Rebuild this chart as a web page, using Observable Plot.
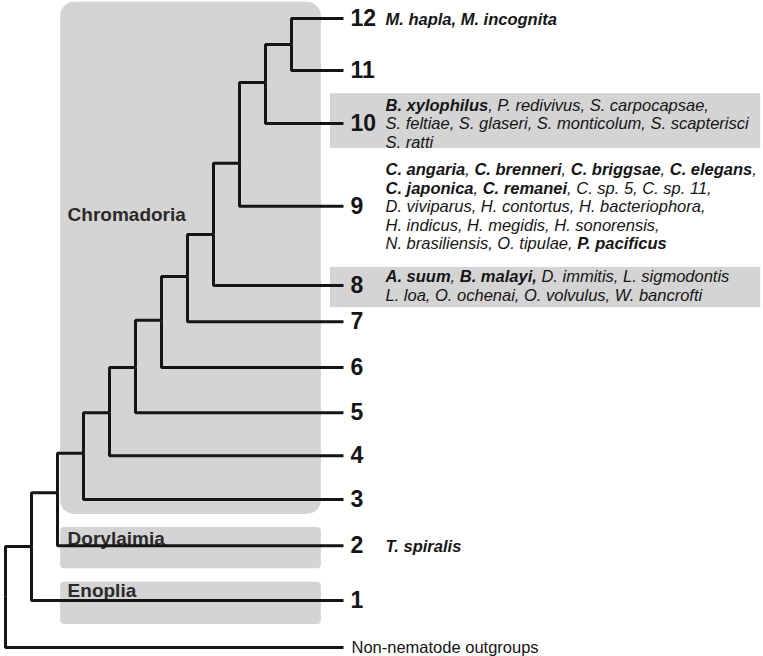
<!DOCTYPE html>
<html>
<head>
<meta charset="utf-8">
<script src="https://cdn.jsdelivr.net/npm/d3@7"></script>
<script src="https://cdn.jsdelivr.net/npm/@observablehq/plot@0.6"></script>
<style>
  html, body { margin: 0; padding: 0; background: #fff; }
  #chart svg { display: block; }
</style>
</head>
<body>
<div id="chart"></div>
<script>
// ---- Tree data (cladogram: depth levels and vertical row positions) ----
const tipNames   = ["12","11","10","9","8","7","6","5","4","3","2","1","Non-nematode outgroups"];
const tipRows    = [0.40, 1.55, 2.72, 4.55, 6.30, 7.10, 8.11, 9.11, 10.06, 11.03, 12.05, 13.26, 14.30];
const tipParent  = [11, 11, 10, 9, 8, 7, 6, 5, 4, 3, 2, 1, 0];
const tipDepth   = 13;

const nodeDepth  = [0, 1, 2, 3, 4, 5, 6, 7, 8, 9, 10, 11];
const nodeRows   = [13.17, 12.07, 10.88, 10.01, 9.11, 8.11, 7.07, 6.10, 5.17, 3.60, 1.81, 0.97];
const nodeParent = [null, 0, 1, 2, 3, 4, 5, 6, 7, 8, 9, 10];

// ---- Clades ----
const cladeNames     = ["Chromadoria", "Dorylaimia", "Enoplia"];
const cladeRowSpan   = [[0.04, 11.36], [11.65, 12.56], [12.86, 13.79]];
const cladeDepthSpan = [2.12, 12.15];
const cladeLabelRows = [4.73, 11.91, 13.06];

// ---- Species lists (** = bold) ----
const speciesTips = ["12", "10", "9", "8", "2"];
const speciesText = [
  "**M. hapla, M. incognita**",
  "**B. xylophilus**, P. redivivus, S. carpocapsae,\nS. feltiae, S. glaseri, S. monticolum, S. scapterisci\nS. ratti",
  "**C. angaria**, **C. brenneri**, **C. briggsae**, **C. elegans**,\n**C. japonica**, **C. remanei**, C. sp. 5, C. sp. 11,\nD. viviparus, H. contortus, H. bacteriophora,\nH. indicus, H. megidis, H. sonorensis,\nN. brasiliensis, O. tipulae, **P. pacificus**",
  "**A. suum**, **B. malayi,** D. immitis, L. sigmodontis\nL. loa, O. ochenai, O. volvulus, W. bancrofti",
  "**T. spiralis**"
];
const highlightTips      = ["10", "8"];
const highlightRowSpan   = [[2.06, 3.27], [5.90, 6.79]];
const highlightDepthSpan = [12.5, 29.05];

// ---- Build tables ----
const links = [];
nodeParent.forEach((p, i) => {
  if (p === null) return;
  links.push({x1: nodeDepth[p], y1: nodeRows[p], x2: nodeDepth[i], y2: nodeRows[i]});
});
tipNames.forEach((t, i) => {
  const p = tipParent[i];
  links.push({x1: nodeDepth[p], y1: nodeRows[p], x2: tipDepth, y2: tipRows[i]});
});

const tips = tipNames.map((name, i) => ({name, row: tipRows[i]}));
const numberedTips = tips.filter(d => d.name !== "Non-nematode outgroups");
const outgroup = tips.filter(d => d.name === "Non-nematode outgroups");

const clades = cladeNames.map((name, i) => ({
  name, y1: cladeRowSpan[i][0], y2: cladeRowSpan[i][1],
  x1: cladeDepthSpan[0], x2: cladeDepthSpan[1], labelRow: cladeLabelRows[i]
}));

const highlights = highlightTips.map((t, i) => ({
  tip: t, y1: highlightRowSpan[i][0], y2: highlightRowSpan[i][1],
  x1: highlightDepthSpan[0], x2: highlightDepthSpan[1]
}));

const species = speciesTips.map((t, i) => ({
  tip: t, row: tipRows[tipNames.indexOf(t)], text: speciesText[i]
}));

const font = "'Liberation Sans', Arial, Helvetica, sans-serif";
const gray = "#d4d4d4";
const ink = "#151515";

const svg = Plot.plot({
  width: 763,
  height: 656,
  margin: 0,
  x: {domain: [0, tipDepth], range: [5, 343], axis: null},
  y: {domain: [0, 14.5], range: [0, 656], axis: null},
  style: {fontFamily: font, background: "#fff"},
  marks: [
    Plot.rect(clades.slice(0, 1), {x1: "x1", x2: "x2", y1: "y1", y2: "y2", fill: gray, rx: 14, ry: 14}),
    Plot.rect(clades.slice(1), {x1: "x1", x2: "x2", y1: "y1", y2: "y2", fill: gray, rx: 4, ry: 4}),
    Plot.rect(highlights, {x1: "x1", x2: "x2", y1: "y1", y2: "y2", fill: gray}),
    Plot.text(clades, {x: "x1", y: "labelRow", text: "name", dx: 7, textAnchor: "start",
      fontSize: 19, fontWeight: "bold", fill: "#2a2a2a"}),
    Plot.link(links, {x1: "x1", y1: "y1", x2: "x2", y2: "y2", curve: "step-before",
      stroke: ink, strokeWidth: 3, strokeLinejoin: "miter", strokeLinecap: "butt"}),
    Plot.text(numberedTips, {x: tipDepth, y: "row", text: "name", dx: 7, textAnchor: "start",
      fontSize: 23, fontWeight: "bold", fill: ink}),
    Plot.text(outgroup, {x: tipDepth, y: "row", text: "name", dx: 8, textAnchor: "start",
      fontSize: 16.5, fill: ink}),
    Plot.text(species, {x: tipDepth, y: "row", text: "text", dx: 42, textAnchor: "start",
      lineAnchor: "middle", lineHeight: 1.12, fontSize: 16.5, fontStyle: "italic", fill: ink})
  ]
});

// Rich-text: turn **...** segments into bold tspans
function richify(el) {
  const s = el.textContent;
  const parts = s.split(/(\*\*[^*]+\*\*)/).filter(p => p.length);
  while (el.firstChild) el.removeChild(el.firstChild);
  parts.forEach(p => {
    const t = document.createElementNS("http://www.w3.org/2000/svg", "tspan");
    if (p.startsWith("**") && p.endsWith("**")) {
      t.textContent = p.slice(2, -2);
      t.setAttribute("font-weight", "bold");
    } else {
      t.textContent = p;
    }
    el.appendChild(t);
  });
}
svg.querySelectorAll("text").forEach(textEl => {
  if (!textEl.textContent.includes("**")) return;
  const lines = Array.from(textEl.children).filter(c => c.tagName.toLowerCase() === "tspan");
  if (lines.length) lines.forEach(richify);
  else richify(textEl);
});

document.getElementById("chart").appendChild(svg);
</script>
</body>
</html>
